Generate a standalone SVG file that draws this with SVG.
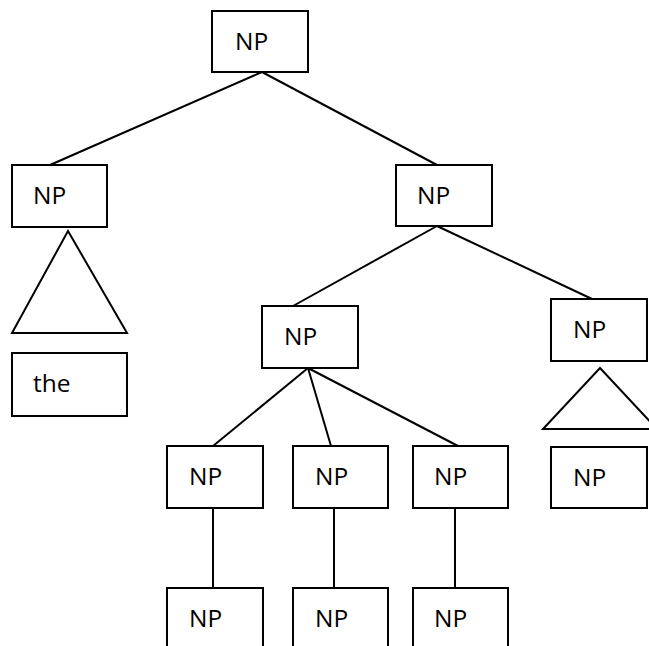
<svg xmlns="http://www.w3.org/2000/svg" width="649" height="646" viewBox="0 0 649 646">
  <style>
    .box { fill: #ffffff; stroke: #000000; stroke-width: 2; }
    .edge { fill: none; stroke: #000000; stroke-width: 2; }
    .tri { fill: #ffffff; stroke: #000000; stroke-width: 2; stroke-linejoin: miter; }
    .lbl { font-family: "Open Sans", "Liberation Sans", sans-serif; font-size: 24.5px; fill: #000000; }
  </style>
  <rect width="649" height="646" fill="#ffffff"/>

  <!-- connectors -->
  <g id="connectors">
    <line class="edge" x1="262" y1="72" x2="50" y2="165"/>
    <line class="edge" x1="262" y1="72" x2="437" y2="165"/>
    <line class="edge" x1="437" y1="226" x2="293" y2="306"/>
    <line class="edge" x1="437" y1="226" x2="592" y2="299"/>
    <line class="edge" x1="308" y1="368" x2="213" y2="446"/>
    <line class="edge" x1="308" y1="368" x2="331" y2="446"/>
    <line class="edge" x1="308" y1="368" x2="458" y2="446"/>
    <line class="edge" x1="213" y1="508" x2="213" y2="588"/>
    <line class="edge" x1="334" y1="508" x2="334" y2="588"/>
    <line class="edge" x1="455" y1="508" x2="455" y2="588"/>
  </g>

  <!-- root -->
  <g id="np-root">
    <rect class="box" x="212" y="11" width="96" height="61"/>
    <text class="lbl" x="235" y="50">NP</text>
  </g>

  <!-- left branch -->
  <g id="np-left">
    <rect class="box" x="12" y="165" width="95" height="62"/>
    <text class="lbl" x="33" y="204">NP</text>
  </g>
  <g id="tri-left">
    <polygon class="tri" points="68,231 127,333 12,333"/>
  </g>
  <g id="word-the">
    <rect class="box" x="12" y="353" width="115" height="63"/>
    <text class="lbl" x="33" y="392">the</text>
  </g>

  <!-- right branch -->
  <g id="np-right">
    <rect class="box" x="396" y="165" width="96" height="61"/>
    <text class="lbl" x="417" y="204">NP</text>
  </g>
  <g id="np-mid">
    <rect class="box" x="262" y="306" width="96" height="62"/>
    <text class="lbl" x="284" y="345">NP</text>
  </g>
  <g id="np-far">
    <rect class="box" x="551" y="299" width="96" height="62"/>
    <text class="lbl" x="573" y="338">NP</text>
  </g>
  <g id="tri-far">
    <polygon class="tri" points="600,368 657,429 543,429"/>
  </g>
  <g id="np-far-leaf">
    <rect class="box" x="551" y="447" width="96" height="61"/>
    <text class="lbl" x="573" y="486">NP</text>
  </g>

  <!-- third level -->
  <g id="np-a">
    <rect class="box" x="167" y="446" width="96" height="62"/>
    <text class="lbl" x="189" y="485">NP</text>
  </g>
  <g id="np-b">
    <rect class="box" x="293" y="446" width="95" height="62"/>
    <text class="lbl" x="315" y="485">NP</text>
  </g>
  <g id="np-c">
    <rect class="box" x="413" y="446" width="95" height="62"/>
    <text class="lbl" x="434" y="485">NP</text>
  </g>

  <!-- bottom row -->
  <g id="np-a-leaf">
    <rect class="box" x="167" y="588" width="96" height="80"/>
    <text class="lbl" x="189" y="627">NP</text>
  </g>
  <g id="np-b-leaf">
    <rect class="box" x="293" y="588" width="95" height="80"/>
    <text class="lbl" x="315" y="627">NP</text>
  </g>
  <g id="np-c-leaf">
    <rect class="box" x="413" y="588" width="95" height="80"/>
    <text class="lbl" x="434" y="627">NP</text>
  </g>
</svg>
